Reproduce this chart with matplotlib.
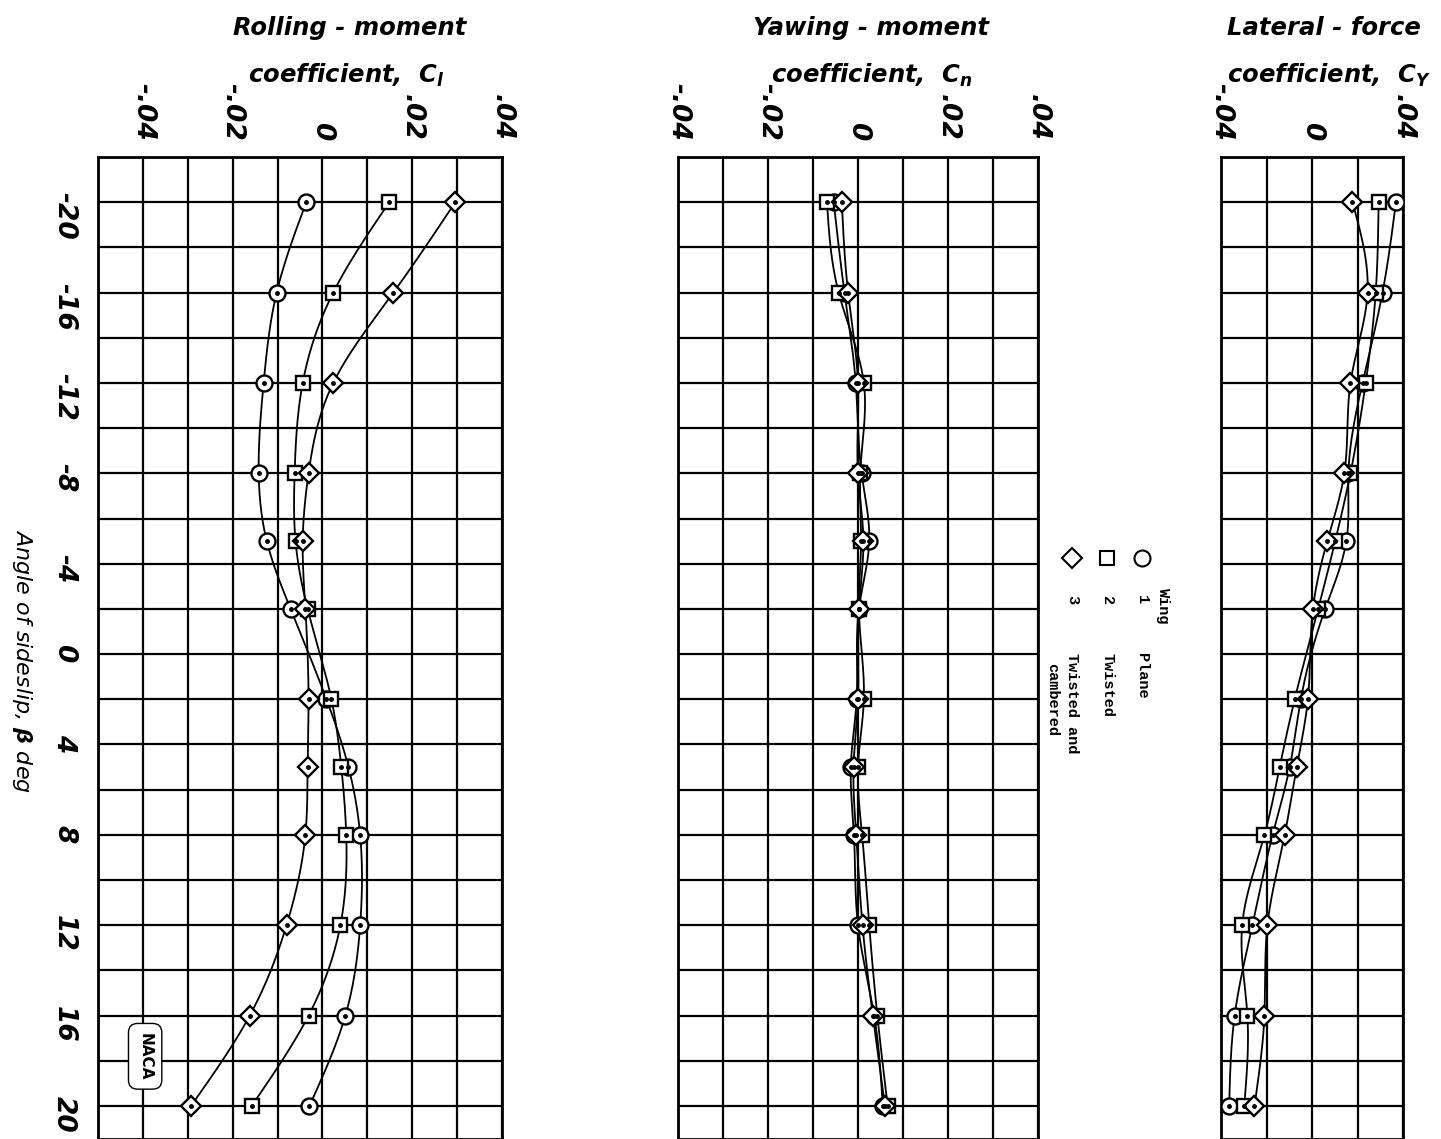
import numpy as np
import matplotlib
matplotlib.use("Agg")
import matplotlib.pyplot as plt

plt.rcParams['mathtext.fontset'] = 'custom'
plt.rcParams['mathtext.it'] = 'DejaVu Sans:bold:italic'
plt.rcParams['mathtext.rm'] = 'DejaVu Sans:bold'

# ---------------- data ----------------
beta = [-20, -16, -12, -8, -5, -2, 2, 5, 8, 12, 16, 20]

cl_plane = [-0.0036, -0.0102, -0.0131, -0.0142, -0.0124, -0.0071, 0.0009, 0.0058, 0.0084, 0.0084, 0.0051, -0.0029]
cl_twisted = [0.0149, 0.0024, -0.0044, -0.0062, -0.0060, -0.0033, 0.0020, 0.0042, 0.0053, 0.0040, -0.0031, -0.0158]
cl_camb = [0.0296, 0.0158, 0.0024, -0.0031, -0.0044, -0.0038, -0.0031, -0.0033, -0.0038, -0.0080, -0.0162, -0.0293]

cn_plane = [-0.0054, -0.0030, -0.0005, 0.0008, 0.0025, 0.0002, -0.0003, -0.0016, -0.0009, 0.0000, 0.0036, 0.0055]
cn_twisted = [-0.0069, -0.0043, 0.0013, 0.0005, 0.0007, 0.0002, 0.0013, 0.0000, 0.0009, 0.0025, 0.0043, 0.0066]
cn_camb = [-0.0036, -0.0022, 0.0000, 0.0000, 0.0012, 0.0002, 0.0000, -0.0010, -0.0004, 0.0010, 0.0033, 0.0060]

cy_plane = [0.0369, 0.0310, 0.0222, 0.0160, 0.0151, 0.0058, -0.0049, -0.0098, -0.0173, -0.0262, -0.0340, -0.0364]
cy_twisted = [0.0293, 0.0280, 0.0236, 0.0169, 0.0102, 0.0027, -0.0076, -0.0142, -0.0209, -0.0307, -0.0284, -0.0298]
cy_camb = [0.0178, 0.0244, 0.0169, 0.0142, 0.0067, 0.0004, -0.0018, -0.0067, -0.0120, -0.0196, -0.0209, -0.0253]

wing_nums = ['1', '2', '3']
wing_names = ['Plane', 'Twisted', 'Twisted and']
beta_ticks = [-20, -16, -12, -8, -4, 0, 4, 8, 12, 16, 20]

# ---------------- helpers ----------------
def natural_spline(xk, yk, xs):
    xk = np.asarray(xk, float); yk = np.asarray(yk, float)
    n = len(xk)
    h = np.diff(xk)
    A = np.zeros((n, n)); r = np.zeros(n)
    A[0, 0] = 1; A[-1, -1] = 1
    for i in range(1, n - 1):
        A[i, i - 1] = h[i - 1]
        A[i, i] = 2 * (h[i - 1] + h[i])
        A[i, i + 1] = h[i]
        r[i] = 3 * ((yk[i + 1] - yk[i]) / h[i] - (yk[i] - yk[i - 1]) / h[i - 1])
    c = np.linalg.solve(A, r)
    b = np.zeros(n - 1); d = np.zeros(n - 1)
    for i in range(n - 1):
        b[i] = (yk[i + 1] - yk[i]) / h[i] - h[i] * (2 * c[i] + c[i + 1]) / 3
        d[i] = (c[i + 1] - c[i]) / (3 * h[i])
    idx = np.clip(np.searchsorted(xk, xs) - 1, 0, n - 2)
    dx = xs - xk[idx]
    return yk[idx] + b[idx] * dx + c[idx] * dx ** 2 + d[idx] * dx ** 3

W, H = 1441, 1139
fig = plt.figure(figsize=(W / 100, H / 100), dpi=100)

def rect(x0, x1, y0, y1):
    return [x0 / W, 1 - y1 / H, (x1 - x0) / W, (y1 - y0) / H]

markers = ['o', 's', 'D']
msizes = [11.5, 10, 10]
bdense = np.linspace(-20, 20, 400)

def setup(ax, xlim, xstep, labels_at, show_y):
    ax.set_xlim(*xlim)
    ax.set_ylim(21.46, -22)
    xt = np.round(np.arange(xlim[0], xlim[1] + 1e-9, xstep), 4)
    ax.set_xticks(xt)
    ax.set_xticklabels([labels_at.get(round(v, 3), '') for v in xt])
    ax.xaxis.tick_top()
    ax.tick_params(axis='x', length=0, pad=12, labelsize=19, labelrotation=-90)
    for t in ax.get_xticklabels():
        t.set_fontweight('bold'); t.set_fontstyle('italic')
    yt = np.arange(-22, 22, 2)
    ax.set_yticks(yt)
    if show_y:
        ax.set_yticklabels([str(int(v)) if int(v) in beta_ticks else '' for v in yt])
        ax.tick_params(axis='y', length=0, pad=15, labelsize=19, labelrotation=-90)
        for t in ax.get_yticklabels():
            t.set_fontweight('bold'); t.set_fontstyle('italic')
    else:
        ax.set_yticklabels([])
        ax.tick_params(axis='y', length=0)
    ax.grid(True, color='black', linewidth=1.6)
    ax.set_axisbelow(True)
    for s in ax.spines.values():
        s.set_linewidth(2.0)

def draw(ax, series):
    for vals in series:
        xs = natural_spline(beta, vals, bdense)
        ax.plot(xs, bdense, color='black', linewidth=1.3, zorder=3)
    for vals, m, ms in zip(series, markers, msizes):
        ax.plot(vals, beta, linestyle='none', marker=m, markersize=ms,
                markerfacecolor='white', markeredgecolor='black',
                markeredgewidth=1.7, zorder=4)
        ax.plot(vals, beta, linestyle='none', marker='o', markersize=2.5,
                color='black', zorder=5)

ax1 = fig.add_axes(rect(98, 502, 157, 1139))
setup(ax1, (-0.05, 0.04), 0.01,
      {-0.04: '-.04', -0.02: '-.02', 0.0: '0', 0.02: '.02', 0.04: '.04'}, True)
draw(ax1, [cl_plane, cl_twisted, cl_camb])

ax2 = fig.add_axes(rect(678, 1038, 157, 1139))
setup(ax2, (-0.04, 0.04), 0.01,
      {-0.04: '-.04', -0.02: '-.02', 0.0: '0', 0.02: '.02', 0.04: '.04'}, False)
draw(ax2, [cn_plane, cn_twisted, cn_camb])

ax3 = fig.add_axes(rect(1221, 1403, 157, 1139))
setup(ax3, (-0.04, 0.04), 0.02,
      {-0.04: '-.04', 0.0: '0', 0.04: '.04'}, False)
draw(ax3, [cy_plane, cy_twisted, cy_camb])

# NACA mark
ax1.text(-0.0395, 17.8, 'NACA', rotation=-90, ha='center', va='center',
         fontsize=11, fontweight='bold', zorder=6,
         bbox=dict(boxstyle='round,pad=0.6', facecolor='white',
                   edgecolor='black', linewidth=1.0))

# titles
tkw = dict(ha='center', va='center', fontsize=17.5, fontweight='bold', fontstyle='italic')
fig.text(350 / W, 1 - 28 / H, 'Rolling - moment', **tkw)
fig.text(346 / W, 1 - 75 / H, r'coefficient,  $C_l$', **tkw)
fig.text(871 / W, 1 - 28 / H, 'Yawing - moment', **tkw)
fig.text(872 / W, 1 - 75 / H, r'coefficient,  $C_n$', **tkw)
fig.text(1324 / W, 1 - 28 / H, 'Lateral - force', **tkw)
fig.text(1329 / W, 1 - 75 / H, r'coefficient,  $C_Y$', **tkw)

# y-axis label
fig.text(22 / W, 1 - 661 / H, r'Angle of sideslip, $\beta$ deg', rotation=-90,
         ha='center', va='center', fontsize=16, fontstyle='italic')

# legend (rotated, between panels 2 and 3)
lax = fig.add_axes(rect(1040, 1200, 157, 1139))
lax.set_xlim(1040, 1200)
lax.set_ylim(1139, 157)
lax.axis('off')
mono = dict(family='Liberation Mono', fontweight='bold', fontsize=11, rotation=-90)
lax.text(1163, 588, 'Wing', ha='center', va='top', **mono)
for xc, m, ms, num, name in zip([1142, 1107, 1072], markers, msizes, wing_nums, wing_names):
    lax.plot([xc], [558], marker=m, markersize=ms, markerfacecolor='white',
             markeredgecolor='black', markeredgewidth=1.5, linestyle='none')
    lax.text(xc, 600, num, ha='center', va='center', **mono)
    lax.text(xc, 653, name, ha='center', va='top', **mono)
lax.text(1052, 663, 'cambered', ha='center', va='top', **mono)

fig.savefig('out.png', dpi=100)
